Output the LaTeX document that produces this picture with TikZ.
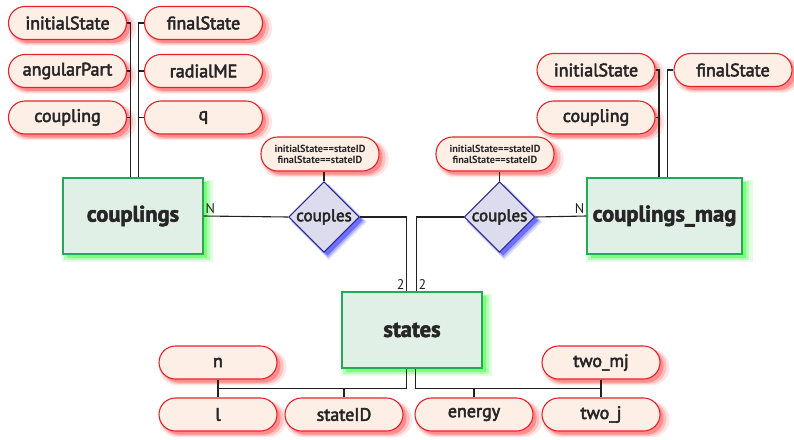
\documentclass[tikz,border=0pt]{standalone}
\usepackage{fontspec}
\setmainfont{PT Sans}
\newfontfamily\attrfont{PT Sans}[FakeBold=3]
\newfontfamily\entfont{PT Sans}[BoldFeatures={FakeBold=2.5}]
\usetikzlibrary{shapes.geometric,shadows,calc}
\definecolor{attrfill}{HTML}{FDEEE6}
\definecolor{attrdraw}{HTML}{E62229}
\definecolor{attrsh}{HTML}{FF5050}
\definecolor{entfill}{HTML}{E0F0E6}
\definecolor{entdraw}{HTML}{22AA55}
\definecolor{entsh}{HTML}{33FF33}
\definecolor{relfill}{HTML}{DCDCEE}
\definecolor{reldraw}{HTML}{2A2A88}
\definecolor{relsh}{HTML}{2222FF}
\definecolor{linec}{HTML}{222222}
\tikzset{
  softshadow/.style={
    general shadow={fill=#1, fill opacity=0.15, shadow xshift=4.5pt, shadow yshift=-4.5pt, shadow scale=1.08},
    general shadow={fill=#1, fill opacity=0.25, shadow xshift=4pt, shadow yshift=-4pt, shadow scale=1.04},
    general shadow={fill=#1, fill opacity=0.45, shadow xshift=3.5pt, shadow yshift=-3.5pt}},
  attr/.style={draw=attrdraw, line width=1.1pt, fill=attrfill, rounded corners=16.5pt,
    minimum width=118pt, minimum height=33pt, inner sep=0pt, text=black!85,
    font=\attrfont\fontsize{18}{18}\selectfont, softshadow=attrsh},
  cond/.style={attr, minimum height=34pt, align=center,
    font=\fontsize{10.3}{11}\selectfont\bfseries},
  entity/.style={draw=entdraw, line width=1.1pt, fill=entfill, inner sep=0pt, text=black!85,
    minimum height=76pt, font=\entfont\fontsize{22.5}{22.5}\selectfont\bfseries, softshadow=entsh},
  rel/.style={diamond, aspect=1, draw=reldraw, line width=1.1pt, fill=relfill, inner sep=0pt,
    minimum width=66pt, minimum height=65pt, text=black!85,
    font=\attrfont\fontsize{17}{17}\selectfont, softshadow=relsh},
  conn/.style={draw=linec, line width=1.1pt},
  card/.style={font=\fontsize{14}{14}\selectfont, inner sep=1.5pt, text=linec}
}
\begin{document}
\begin{tikzpicture}[x=1pt,y=-1pt]
\useasboundingbox (0,0) rectangle (794,439);
% entities
\node[entity, minimum width=140pt] (cpl) at (133,216) {couplings};
\node[entity, minimum width=155pt] (cm) at (664.5,216) {couplings\_mag};
\node[entity, minimum width=140pt] (st) at (412,330) {states};
% relationships
\node[rel] (d1) at (324,217) {couples};
\node[rel] (d2) at (499.5,217) {couples};
\node[cond] (k1) at (320,154) {initialState==stateID\\finalState==stateID};
\node[cond] (k2) at (495,154) {initialState==stateID\\finalState==stateID};
% top-left attributes
\node[attr] (a1) at (67.5,23) {initialState};
\node[attr] (a2) at (67.5,71) {angularPart};
\node[attr] (a3) at (67.5,117.5) {coupling};
\node[attr] (b1) at (203.5,23) {finalState};
\node[attr] (b2) at (203.5,71) {radialME};
\node[attr] (b3) at (203.5,117.5) {q};
% top-right attributes
\node[attr] (c1) at (596,70) {initialState};
\node[attr] (c2) at (596,117.5) {coupling};
\node[attr] (e1) at (733,70) {finalState};
% bottom attributes
\node[attr] (n) at (218,362.5) {n};
\node[attr] (l) at (218,414.5) {l};
\node[attr] (sid) at (344,414.5) {stateID};
\node[attr] (en) at (474,414.5) {energy};
\node[attr] (mj) at (601,362.5) {two\_mj};
\node[attr] (tj) at (601,414.5) {two\_j};
% helper coordinates
\coordinate (cpL) at ([xshift=68pt]cpl.north west);
\coordinate (cpR) at ([xshift=76pt]cpl.north west);
\coordinate (cmL) at ([xshift=72.5pt]cm.north west);
\coordinate (cmR) at ([xshift=81pt]cm.north west);
\coordinate (sL) at ([xshift=65pt]st.north west);
\coordinate (sR) at ([xshift=75pt]st.north west);
\coordinate (sLb) at ([xshift=65pt]st.south west);
\coordinate (sRb) at ([xshift=74pt]st.south west);
\coordinate (jl) at ($(n.south)!.5!(l.north)$);
\coordinate (jr) at ($(mj.south)!.5!(tj.north)$);
% connectors top-left
\draw[conn] (a1.east) -| (cpL);
\draw[conn] (a2.east) -- (a2.east -| cpL);
\draw[conn] (a3.east) -- (a3.east -| cpL);
\draw[conn] (b1.west) -| (cpR);
\draw[conn] (b2.west) -- (b2.west -| cpR);
\draw[conn] (b3.west) -- (b3.west -| cpR);
% connectors top-right
\draw[conn] (c1.east) -| (cmL);
\draw[conn] (c2.east) -- (c2.east -| cmL);
\draw[conn] (e1.west) -| (cmR);
% relationships
\draw[conn] (cpl.east) -- node[card, pos=0, above right]{N} (d1.west);
\draw[conn] (d1.east) -| node[card, at end, above left]{2} (sL);
\draw[conn] (d2.west) -| node[card, at end, above right]{2} (sR);
\draw[conn] (d2.east) -- node[card, pos=1, above left]{N} (cm.west);
\draw[conn] (d1.north) -- (d1.north |- k1.south);
\draw[conn] (d2.north) -- (d2.north |- k2.south);
% bottom
\draw[conn] (n.south) -- (l.north);
\draw[conn] (sLb) |- (jl);
\draw[conn] (sid.north) -- (sid.north |- jl);
\draw[conn] (mj.south) -- (tj.north);
\draw[conn] (sRb) |- (jr);
\draw[conn] (en.north) -- (en.north |- jr);
\end{tikzpicture}
\end{document}
